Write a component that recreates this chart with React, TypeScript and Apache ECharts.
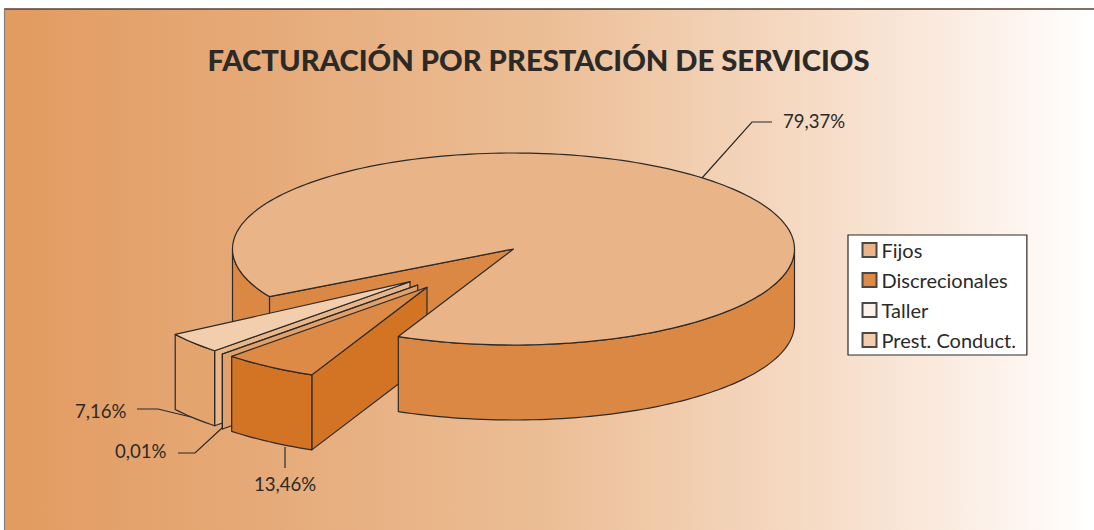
import React, { useEffect, useRef } from "react";
import * as echarts from "echarts";

const titleText = "FACTURACIÓN POR PRESTACIÓN DE SERVICIOS";
const categories = ["Fijos", "Discrecionales", "Taller", "Prest. Conduct."];
const shares = [79.37, 13.46, 0.01, 7.16];
// Clockwise order round the pie, starting at the front edge of the notch.
const sweepOrder = ["Discrecionales", "Taller", "Prest. Conduct.", "Fijos"];

const FONT = "Lato";
const INK = "#2b2a29";
const CX = 513.5, CY = 249, RX = 281, RY = 96, DEPTH = 75;
const START_DEG = 114.2, WARP_1 = -47, WARP_2 = 6.6, FIJOS_PAD = 3.6;

const topColors: Record<string, string> = { "Fijos": "#E9B487", "Discrecionales": "#DC8A46", "Taller": "#FBF3EA", "Prest. Conduct.": "#F2CEAD" };
const wallColors: Record<string, string> = { "Fijos": "#DB8844", "Discrecionales": "#D37324", "Taller": "#E2A06A", "Prest. Conduct.": "#E3A46E" };
const edgeColors: Record<string, string> = { "Fijos": "#DB8844", "Discrecionales": "#D37324", "Taller": "#E2A06A", "Prest. Conduct.": "#E9B68A" };
const explode: Record<string, [number, number]> = { "Fijos": [0, 0], "Discrecionales": [-86.5, 38.3], "Taller": [-95.8, 36], "Prest. Conduct.": [-103.5, 32.7] };

const shareOf = (n: string) => shares[categories.indexOf(n)];
const fmt = (v: number) => v.toFixed(2).replace(".", ",") + "%";

// The source picture foreshortens the front of the pie; the warp maps a share of the
// circle to the angle on the ellipse.
function angleAt(t: number) {
  return START_DEG + 360 * t + WARP_1 * Math.sin(2 * Math.PI * t) + WARP_2 * Math.sin(4 * Math.PI * t);
}
function rangeOf(name: string): [number, number] {
  const total = shares.reduce((a, b) => a + b, 0);
  let acc = 0;
  for (const n of sweepOrder) {
    if (n === name) {
      const pad = n === "Fijos" ? FIJOS_PAD : 0;
      return [angleAt(acc / total) + pad, angleAt((acc + shareOf(n)) / total)];
    }
    acc += shareOf(n);
  }
  return [0, 0];
}
const rad = (d: number) => (d * Math.PI) / 180;

function arcPts(ax: number, ay: number, a0: number, a1: number, dy = 0) {
  const pts: number[][] = [];
  const n = Math.max(2, Math.ceil(Math.abs(a1 - a0) / 1.5));
  for (let i = 0; i <= n; i++) {
    const a = rad(a0 + ((a1 - a0) * i) / n);
    pts.push([ax + RX * Math.cos(a), ay + RY * Math.sin(a) + dy]);
  }
  return pts;
}
const poly = (points: number[][], fill: string) => ({
  type: "polygon",
  shape: { points },
  style: { fill, stroke: INK, lineWidth: 1.2, lineJoin: "round" },
});

function buildSlice(name: string, part: "all" | "back" | "front") {
  const [a0, a1] = rangeOf(name);
  const [ox, oy] = explode[name];
  const ax = CX + ox, ay = CY + oy;
  const kids: any[] = [];
  const edgeWall = (a: number) => {
    const p = [ax + RX * Math.cos(rad(a)), ay + RY * Math.sin(rad(a))];
    return poly([[ax, ay], p, [p[0], p[1] + DEPTH], [ax, ay + DEPTH]], edgeColors[name]);
  };
  const outerWall = (s: number, e: number) => {
    const top = arcPts(ax, ay, s, e);
    const bottom = arcPts(ax, ay, s, e, DEPTH).reverse();
    return poly(top.concat(bottom), wallColors[name]);
  };
  // Front-facing parts of the rim fall in 0..180 degrees, repeated every turn.
  const visible: [number, number][] = [];
  for (let k = 0; k < 2; k++) {
    const s = Math.max(a0, k * 360), e = Math.min(a1, k * 360 + 180);
    if (e > s) visible.push([s, e]);
  }
  if (part !== "front") {
    if (Math.sin(rad(a0 - 90)) > 0) kids.push(edgeWall(a0));
    if (part === "back") {
      if (visible[0]) kids.push(outerWall(visible[0][0], visible[0][1]));
    } else {
      visible.forEach(([s, e]) => kids.push(outerWall(s, e)));
    }
  }
  if (part === "front") {
    visible.slice(1).forEach(([s, e]) => kids.push(outerWall(s, e)));
  }
  if (part !== "back") {
    const top = [[ax, ay], ...arcPts(ax, ay, a0, a1)];
    kids.push(poly(top, topColors[name]));
  }
  return { type: "group", children: kids };
}

function sliceSeries(name: string, part: "all" | "back" | "front") {
  return {
    type: "custom",
    name,
    coordinateSystem: "none",
    silent: true,
    itemStyle: { color: topColors[name], borderColor: "#4a4744", borderWidth: 1 },
    data: [[shareOf(name)]],
    renderItem: () => buildSlice(name, part),
  };
}

const leader = (points: number[][]) => ({
  type: "polyline",
  shape: { points },
  style: { fill: "none", stroke: INK, lineWidth: 1.2 },
});
const label = (name: string, x: number, y: number) => ({
  type: "text",
  x,
  y,
  style: { text: fmt(shareOf(name)), font: `18.6px ${FONT}`, fill: INK, align: "left", verticalAlign: "middle" },
});

export default function App() {
  const ref = useRef<HTMLDivElement>(null);
  useEffect(() => {
    document.body.style.margin = "0";
    document.body.style.overflow = "hidden";
    const chart = echarts.init(ref.current!, null, { renderer: "svg" });
    chart.setOption({
      animation: false,
      backgroundColor: "#ffffff",
      title: {
        text: titleText,
        left: 538.5,
        textAlign: "center",
        top: 45,
        textStyle: { fontFamily: FONT, fontWeight: 900, fontSize: 29.2, color: INK },
        padding: 0,
      },
      legend: {
        data: categories,
        orient: "vertical",
        left: 848,
        top: 235,
        padding: [5, 11, 5, 13.5],
        itemGap: 10,
        itemWidth: 14,
        itemHeight: 14,
        backgroundColor: "#ffffff",
        borderColor: INK,
        borderWidth: 1.2,
        selectedMode: false,
        icon: "rect",
        textStyle: { fontFamily: FONT, fontSize: 20, color: INK },
      },
      graphic: [
        {
          type: "rect",
          shape: { x: 5, y: 9, width: 1089, height: 521 },
          style: {
            fill: new echarts.graphic.LinearGradient(0, 0, 1, 0, [
              { offset: 0, color: "#E29B60" },
              { offset: 0.25, color: "#E6AB7A" },
              { offset: 0.5, color: "#ECBE96" },
              { offset: 0.7, color: "#F4D6BD" },
              { offset: 0.85, color: "#FAE9DC" },
              { offset: 1, color: "#FFFFFF" },
            ]),
          },
        },
        { type: "line", shape: { x1: 4, y1: 9, x2: 1094, y2: 9 }, style: { stroke: "#5A4030", lineWidth: 1.6 } },
        { type: "line", shape: { x1: 4.5, y1: 9, x2: 4.5, y2: 530 }, style: { stroke: "#8A8178", lineWidth: 1.2 } },
        leader([[702, 178], [752, 122], [772, 122]]),
        leader([[137, 409], [158, 409], [195, 418]]),
        leader([[178, 453], [195, 453], [222, 428]]),
        leader([[285, 447], [285, 468]]),
        label("Fijos", 783, 121),
        label("Prest. Conduct.", 75, 411),
        label("Taller", 115, 451),
        label("Discrecionales", 254, 484),
      ],
      series: [
        sliceSeries("Fijos", "back"),
        sliceSeries("Prest. Conduct.", "all"),
        sliceSeries("Taller", "all"),
        sliceSeries("Discrecionales", "all"),
        sliceSeries("Fijos", "front"),
      ],
    });
    return () => chart.dispose();
  }, []);
  return <div ref={ref} style={{ width: 1094, height: 530 }} />;
}
